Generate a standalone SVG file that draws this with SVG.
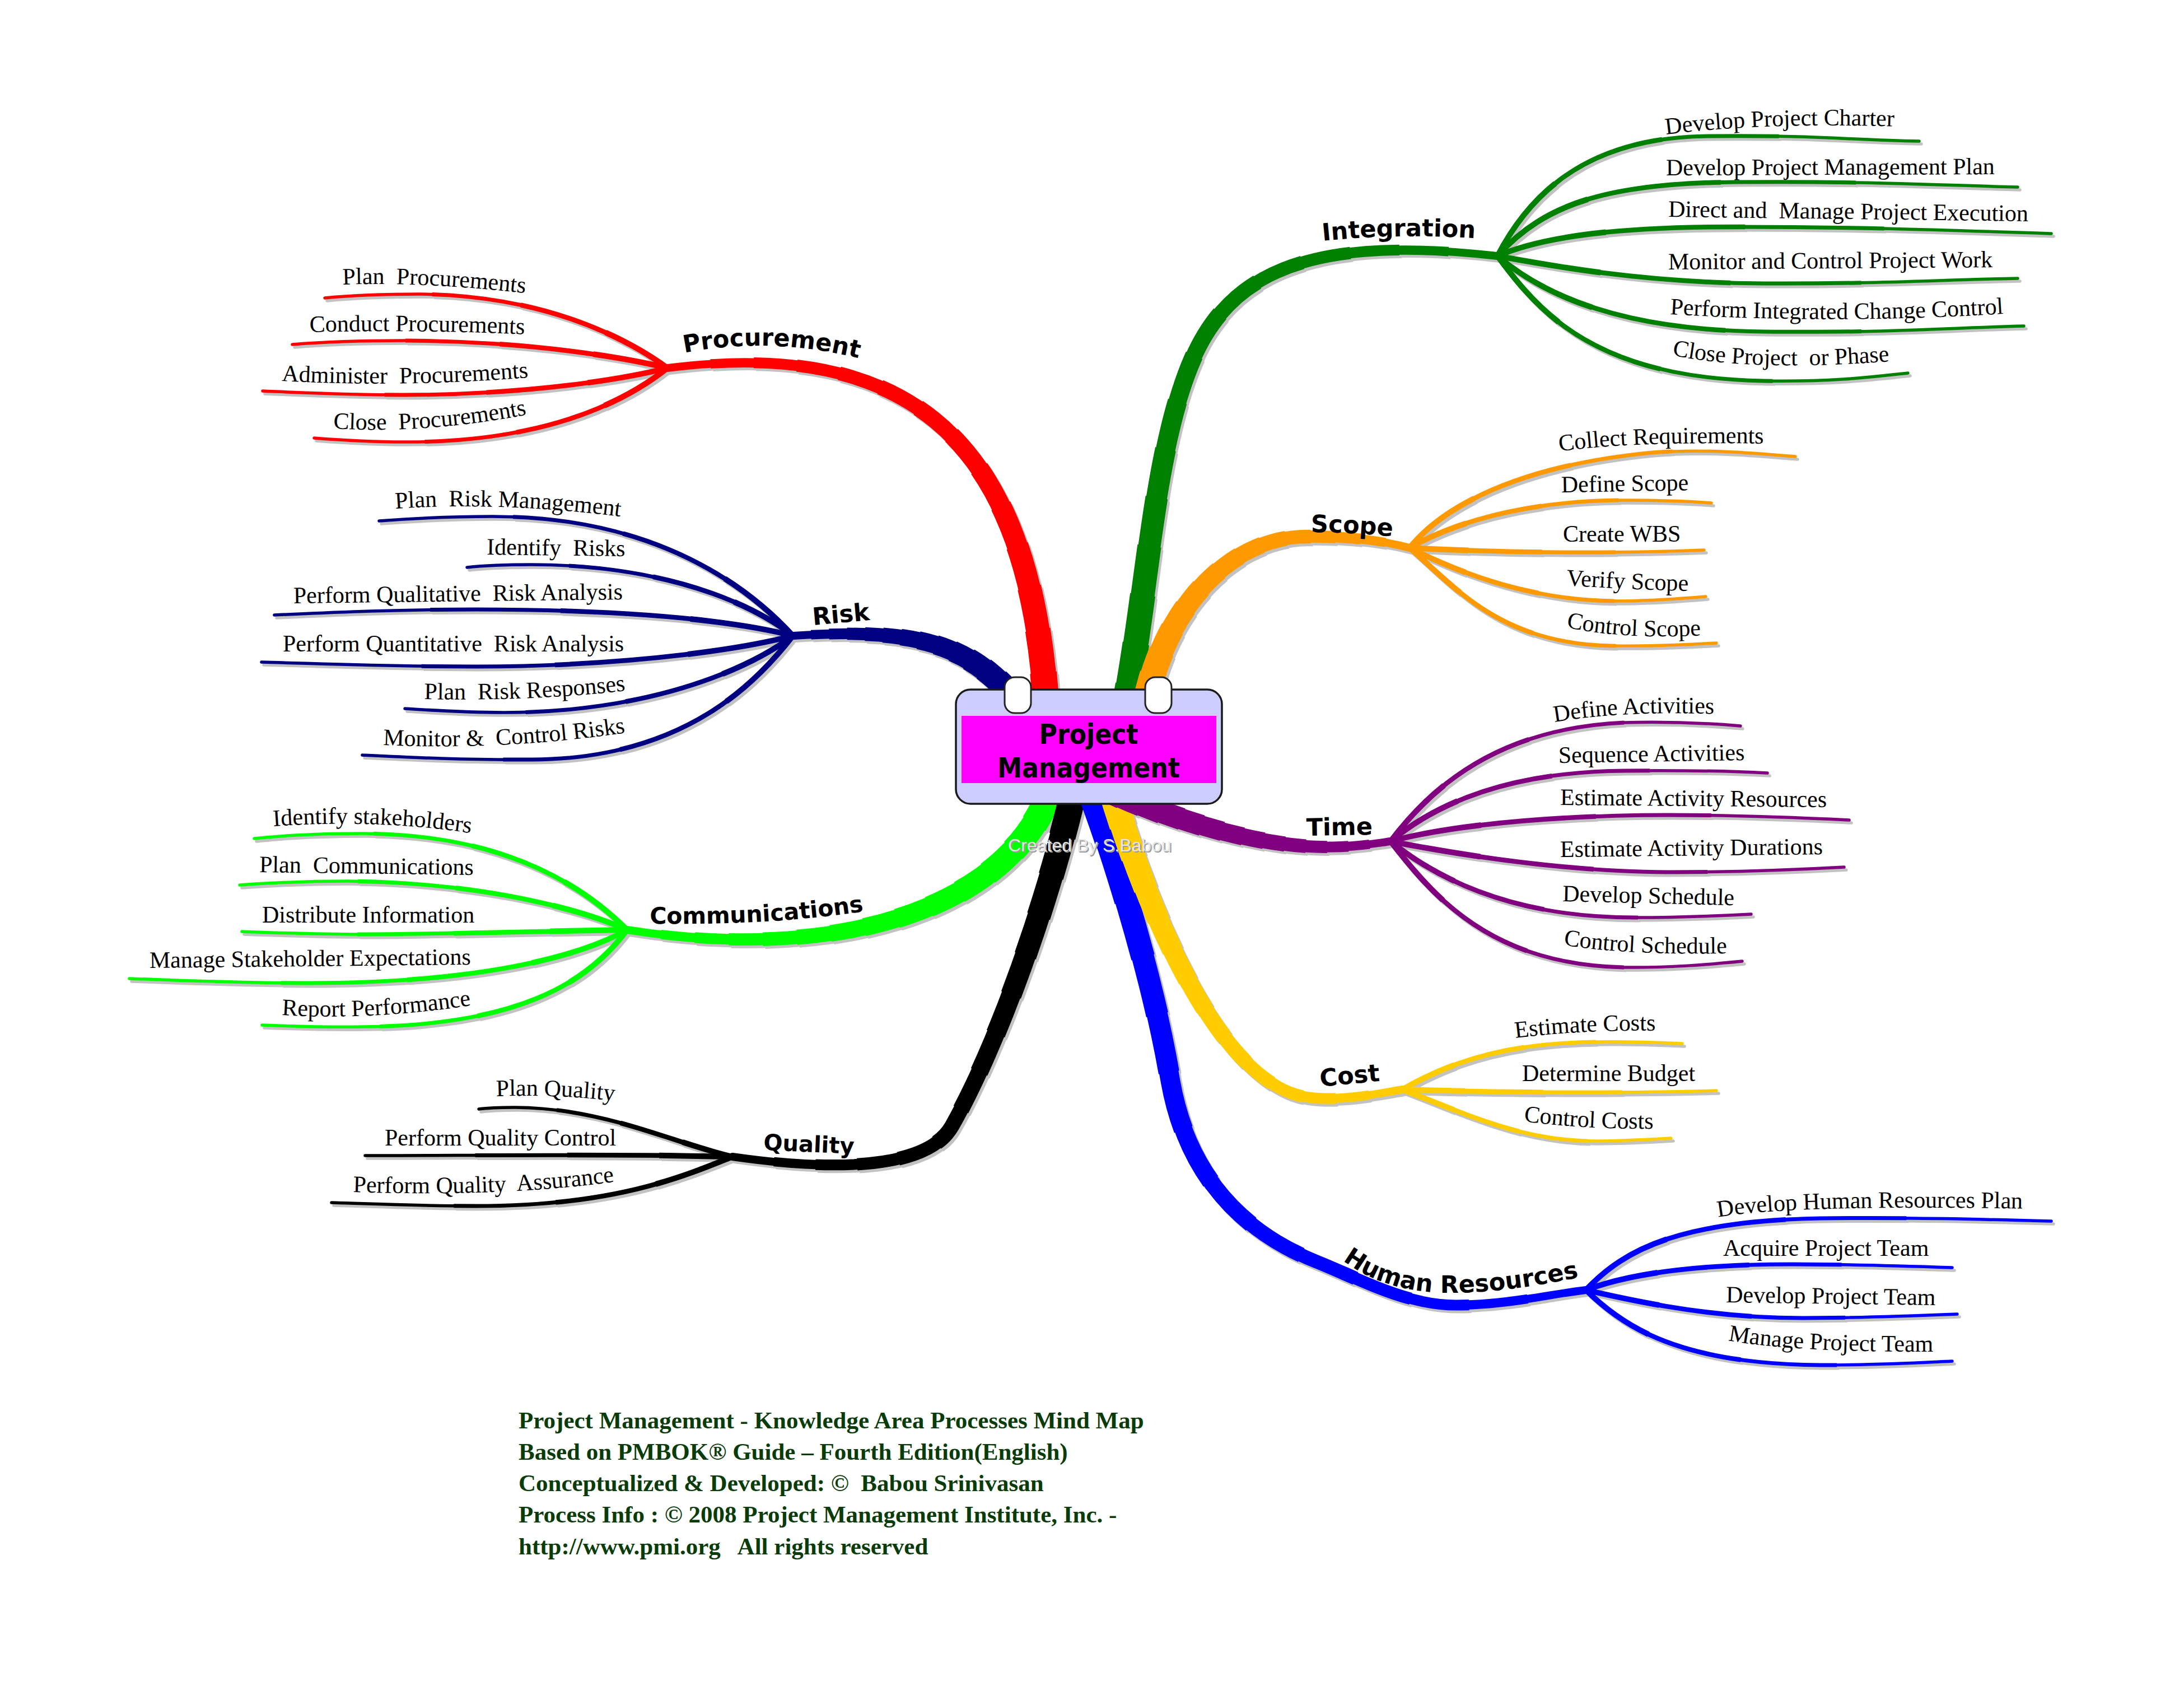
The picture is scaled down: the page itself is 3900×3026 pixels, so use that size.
<svg xmlns="http://www.w3.org/2000/svg" xmlns:xlink="http://www.w3.org/1999/xlink" width="3900" height="3026" viewBox="0 0 3900 3026">
<style>
.m1{stroke-width:14;stroke-linecap:round}
.m2{stroke-width:16.6;stroke-dasharray:93 1000}
.m3{stroke-width:19.2;stroke-dasharray:86 1000}
.m4{stroke-width:21.8;stroke-dasharray:79 1000}
.m5{stroke-width:24.4;stroke-dasharray:72 1000}
.m6{stroke-width:27;stroke-dasharray:65 1000}
.m7{stroke-width:29.6;stroke-dasharray:58 1000}
.m8{stroke-width:32.2;stroke-dasharray:51 1000}
.m9{stroke-width:34.8;stroke-dasharray:44 1000}
.m10{stroke-width:37.4;stroke-dasharray:37 1000}
.m11{stroke-width:40;stroke-dasharray:30 1000}
.m12{stroke-width:42.6;stroke-dasharray:23 1000}
.m13{stroke-width:45.2;stroke-dasharray:16 1000}
.m14{stroke-width:47.8;stroke-dasharray:9 1000}
.m15{stroke-width:50;stroke-dasharray:3 1000}
.f1{stroke-width:5.5;stroke-linecap:round}
.f2{stroke-width:7;stroke-dasharray:70 1000}
.f3{stroke-width:8.5;stroke-dasharray:45 1000}
.f4{stroke-width:10;stroke-dasharray:20 1000}
.lbl{font-family:"DejaVu Sans",Verdana,sans-serif;font-weight:bold;font-size:43px;fill:#000}
.leaf{font-family:"Liberation Serif","Times New Roman",serif;font-size:42px;fill:#000}
.ctr{font-family:"DejaVu Sans",Verdana,sans-serif;font-weight:bold;font-size:49px;fill:#000}
.foot{font-family:"Liberation Serif","Times New Roman",serif;font-weight:bold;font-size:43px;fill:#0a3c0a}
.wm{font-family:"Liberation Sans",Arial,sans-serif;font-size:32px}
.tp{fill:none;stroke:none}
</style>
<defs>
<path id="p-int" pathLength="100" d="M2010,1260 C2050,1050 2060,800 2130,640 C2200,480 2350,420 2674,457"/>
<path id="p-scope" pathLength="100" d="M2045,1260 C2080,1080 2200,960 2330,958 C2420,957 2480,968 2517,978"/>
<path id="p-time" pathLength="100" d="M1960,1400 C2080,1460 2250,1515 2380,1512 C2430,1511 2460,1505 2483,1502"/>
<path id="p-cost" pathLength="100" d="M1982,1400 C2040,1600 2170,1930 2330,1958 C2390,1968 2460,1952 2504,1945"/>
<path id="p-hr" pathLength="100" d="M1935,1380 C1990,1520 2060,1750 2090,1930 C2120,2100 2220,2200 2350,2252 C2430,2284 2510,2330 2600,2330 C2690,2330 2770,2310 2832,2303"/>
<path id="p-qual" pathLength="100" d="M1920,1400 C1880,1580 1790,1850 1700,2010 C1655,2090 1480,2090 1308,2065"/>
<path id="p-comm" pathLength="100" d="M1880,1400 C1810,1620 1500,1720 1120,1660"/>
<path id="p-risk" pathLength="100" d="M1830,1270 C1740,1150 1640,1120 1416,1135"/>
<path id="p-proc" pathLength="100" d="M1870,1300 C1850,800 1640,600 1192,657"/>
<path id="l-i1" pathLength="100" d="M2674,457 C2740,330 2850,245 3050,243 C3250,241 3300,250 3427,252"/>
<path id="l-i2" pathLength="100" d="M2674,457 C2760,360 2880,327 3100,325 C3320,323 3450,330 3603,334"/>
<path id="l-i3" pathLength="100" d="M2674,457 C2760,420 2900,405 3100,405 C3300,405 3450,410 3663,417"/>
<path id="l-i4" pathLength="100" d="M2674,457 C2800,480 2950,505 3150,506 C3350,507 3450,500 3603,497"/>
<path id="l-i5" pathLength="100" d="M2674,457 C2760,530 2900,590 3150,592 C3400,594 3450,586 3614,582"/>
<path id="l-i6" pathLength="100" d="M2674,457 C2750,560 2850,675 3150,680 C3280,682 3350,672 3407,666"/>
<path id="l-s1" pathLength="100" d="M2517,978 C2580,900 2720,830 2950,808 C3050,800 3150,811 3206,815"/>
<path id="l-s2" pathLength="100" d="M2517,978 C2620,920 2760,893 2900,893 C2980,893 3020,895 3056,898"/>
<path id="l-s3" pathLength="100" d="M2517,978 C2650,985 2850,990 3043,982"/>
<path id="l-s4" pathLength="100" d="M2517,978 C2620,1030 2750,1075 2900,1073 C2960,1072 3010,1068 3046,1065"/>
<path id="l-s5" pathLength="100" d="M2517,978 C2600,1050 2680,1150 2880,1153 C2960,1154 3020,1150 3065,1148"/>
<path id="l-t1" pathLength="100" d="M2483,1502 C2560,1400 2680,1300 2900,1290 C2980,1288 3050,1291 3108,1296"/>
<path id="l-t2" pathLength="100" d="M2483,1502 C2570,1430 2700,1378 2900,1376 C3000,1375 3100,1377 3156,1380"/>
<path id="l-t3" pathLength="100" d="M2483,1502 C2600,1470 2800,1455 2980,1455 C3100,1455 3220,1460 3302,1464"/>
<path id="l-t4" pathLength="100" d="M2483,1502 C2600,1525 2800,1557 2980,1557 C3100,1557 3220,1552 3293,1548"/>
<path id="l-t5" pathLength="100" d="M2483,1502 C2580,1580 2720,1638 2920,1638 C3000,1638 3070,1635 3127,1632"/>
<path id="l-t6" pathLength="100" d="M2483,1502 C2560,1600 2660,1722 2900,1727 C2980,1728 3050,1722 3111,1716"/>
<path id="l-c1" pathLength="100" d="M2504,1945 C2600,1890 2700,1862 2850,1860 C2920,1859 2960,1861 3004,1863"/>
<path id="l-c2" pathLength="100" d="M2504,1945 C2650,1950 2900,1952 3065,1947"/>
<path id="l-c3" pathLength="100" d="M2504,1945 C2620,1990 2720,2038 2850,2037 C2900,2037 2950,2034 2984,2032"/>
<path id="l-h1" pathLength="100" d="M2832,2303 C2900,2230 3000,2180 3250,2175 C3400,2173 3550,2177 3663,2180"/>
<path id="l-h2" pathLength="100" d="M2832,2303 C2920,2270 3050,2257 3200,2257 C3300,2257 3400,2260 3486,2263"/>
<path id="l-h3" pathLength="100" d="M2832,2303 C2950,2330 3070,2353 3220,2353 C3320,2353 3420,2349 3495,2346"/>
<path id="l-h4" pathLength="100" d="M2832,2303 C2900,2370 3000,2435 3250,2437 C3350,2437 3420,2433 3486,2430"/>
<path id="l-p1" pathLength="100" d="M1192,657 C1100,590 950,527 750,525 C680,525 620,528 580,532"/>
<path id="l-p2" pathLength="100" d="M1192,657 C1080,630 900,608 720,608 C640,608 570,611 522,615"/>
<path id="l-p3" pathLength="100" d="M1192,657 C1080,685 900,705 720,705 C620,705 540,701 469,698"/>
<path id="l-p4" pathLength="100" d="M1192,657 C1100,730 950,790 720,789 C660,789 600,785 561,782"/>
<path id="l-k1" pathLength="100" d="M1416,1135 C1320,1030 1150,922 880,922 C800,922 730,926 677,930"/>
<path id="l-k2" pathLength="100" d="M1416,1135 C1320,1060 1150,1008 950,1008 C900,1008 860,1010 834,1013"/>
<path id="l-k3" pathLength="100" d="M1416,1135 C1280,1100 1050,1088 850,1088 C700,1088 580,1094 490,1098"/>
<path id="l-k4" pathLength="100" d="M1416,1135 C1280,1170 1050,1190 850,1190 C700,1190 580,1185 467,1182"/>
<path id="l-k5" pathLength="100" d="M1416,1135 C1330,1200 1150,1272 900,1272 C830,1272 770,1268 723,1265"/>
<path id="l-k6" pathLength="100" d="M1416,1135 C1350,1220 1220,1355 950,1356 C830,1357 730,1352 647,1348"/>
<path id="l-m1" pathLength="100" d="M1120,1660 C1040,1580 900,1490 650,1488 C570,1488 500,1492 454,1497"/>
<path id="l-m2" pathLength="100" d="M1120,1660 C1030,1620 850,1575 620,1573 C540,1573 470,1577 428,1580"/>
<path id="l-m3" pathLength="100" d="M1120,1660 C950,1662 800,1668 640,1668 C560,1668 490,1665 432,1663"/>
<path id="l-m4" pathLength="100" d="M1120,1660 C1030,1710 850,1755 550,1755 C420,1755 320,1750 231,1747"/>
<path id="l-m5" pathLength="100" d="M1120,1660 C1060,1740 950,1830 650,1833 C580,1834 520,1832 468,1830"/>
<path id="l-q1" pathLength="100" d="M1308,2065 C1200,2040 1080,1978 920,1977 C890,1977 870,1978 855,1980"/>
<path id="l-q2" pathLength="100" d="M1308,2065 C1100,2060 850,2063 652,2063"/>
<path id="l-q3" pathLength="100" d="M1308,2065 C1220,2100 1100,2153 850,2153 C750,2153 660,2149 592,2147"/>
<g id="g-int" fill="none">
<use href="#p-int" class="m1"/><use href="#p-int" class="m2"/><use href="#p-int" class="m3"/><use href="#p-int" class="m4"/><use href="#p-int" class="m5"/><use href="#p-int" class="m6"/><use href="#p-int" class="m7"/><use href="#p-int" class="m8"/><use href="#p-int" class="m9"/><use href="#p-int" class="m10"/><use href="#p-int" class="m11"/><use href="#p-int" class="m12"/><use href="#p-int" class="m13"/><use href="#p-int" class="m14"/><use href="#p-int" class="m15"/>
<use href="#l-i1" class="f1"/><use href="#l-i1" class="f2"/><use href="#l-i1" class="f3"/><use href="#l-i1" class="f4"/>
<use href="#l-i2" class="f1"/><use href="#l-i2" class="f2"/><use href="#l-i2" class="f3"/><use href="#l-i2" class="f4"/>
<use href="#l-i3" class="f1"/><use href="#l-i3" class="f2"/><use href="#l-i3" class="f3"/><use href="#l-i3" class="f4"/>
<use href="#l-i4" class="f1"/><use href="#l-i4" class="f2"/><use href="#l-i4" class="f3"/><use href="#l-i4" class="f4"/>
<use href="#l-i5" class="f1"/><use href="#l-i5" class="f2"/><use href="#l-i5" class="f3"/><use href="#l-i5" class="f4"/>
<use href="#l-i6" class="f1"/><use href="#l-i6" class="f2"/><use href="#l-i6" class="f3"/><use href="#l-i6" class="f4"/>
</g>
<g id="g-scope" fill="none">
<use href="#p-scope" class="m1"/><use href="#p-scope" class="m2"/><use href="#p-scope" class="m3"/><use href="#p-scope" class="m4"/><use href="#p-scope" class="m5"/><use href="#p-scope" class="m6"/><use href="#p-scope" class="m7"/><use href="#p-scope" class="m8"/><use href="#p-scope" class="m9"/><use href="#p-scope" class="m10"/><use href="#p-scope" class="m11"/><use href="#p-scope" class="m12"/><use href="#p-scope" class="m13"/><use href="#p-scope" class="m14"/><use href="#p-scope" class="m15"/>
<use href="#l-s1" class="f1"/><use href="#l-s1" class="f2"/><use href="#l-s1" class="f3"/><use href="#l-s1" class="f4"/>
<use href="#l-s2" class="f1"/><use href="#l-s2" class="f2"/><use href="#l-s2" class="f3"/><use href="#l-s2" class="f4"/>
<use href="#l-s3" class="f1"/><use href="#l-s3" class="f2"/><use href="#l-s3" class="f3"/><use href="#l-s3" class="f4"/>
<use href="#l-s4" class="f1"/><use href="#l-s4" class="f2"/><use href="#l-s4" class="f3"/><use href="#l-s4" class="f4"/>
<use href="#l-s5" class="f1"/><use href="#l-s5" class="f2"/><use href="#l-s5" class="f3"/><use href="#l-s5" class="f4"/>
</g>
<g id="g-time" fill="none">
<use href="#p-time" class="m1"/><use href="#p-time" class="m2"/><use href="#p-time" class="m3"/><use href="#p-time" class="m4"/><use href="#p-time" class="m5"/><use href="#p-time" class="m6"/><use href="#p-time" class="m7"/><use href="#p-time" class="m8"/><use href="#p-time" class="m9"/><use href="#p-time" class="m10"/><use href="#p-time" class="m11"/><use href="#p-time" class="m12"/><use href="#p-time" class="m13"/><use href="#p-time" class="m14"/><use href="#p-time" class="m15"/>
<use href="#l-t1" class="f1"/><use href="#l-t1" class="f2"/><use href="#l-t1" class="f3"/><use href="#l-t1" class="f4"/>
<use href="#l-t2" class="f1"/><use href="#l-t2" class="f2"/><use href="#l-t2" class="f3"/><use href="#l-t2" class="f4"/>
<use href="#l-t3" class="f1"/><use href="#l-t3" class="f2"/><use href="#l-t3" class="f3"/><use href="#l-t3" class="f4"/>
<use href="#l-t4" class="f1"/><use href="#l-t4" class="f2"/><use href="#l-t4" class="f3"/><use href="#l-t4" class="f4"/>
<use href="#l-t5" class="f1"/><use href="#l-t5" class="f2"/><use href="#l-t5" class="f3"/><use href="#l-t5" class="f4"/>
<use href="#l-t6" class="f1"/><use href="#l-t6" class="f2"/><use href="#l-t6" class="f3"/><use href="#l-t6" class="f4"/>
</g>
<g id="g-cost" fill="none">
<use href="#p-cost" class="m1"/><use href="#p-cost" class="m2"/><use href="#p-cost" class="m3"/><use href="#p-cost" class="m4"/><use href="#p-cost" class="m5"/><use href="#p-cost" class="m6"/><use href="#p-cost" class="m7"/><use href="#p-cost" class="m8"/><use href="#p-cost" class="m9"/><use href="#p-cost" class="m10"/><use href="#p-cost" class="m11"/><use href="#p-cost" class="m12"/><use href="#p-cost" class="m13"/><use href="#p-cost" class="m14"/><use href="#p-cost" class="m15"/>
<use href="#l-c1" class="f1"/><use href="#l-c1" class="f2"/><use href="#l-c1" class="f3"/><use href="#l-c1" class="f4"/>
<use href="#l-c2" class="f1"/><use href="#l-c2" class="f2"/><use href="#l-c2" class="f3"/><use href="#l-c2" class="f4"/>
<use href="#l-c3" class="f1"/><use href="#l-c3" class="f2"/><use href="#l-c3" class="f3"/><use href="#l-c3" class="f4"/>
</g>
<g id="g-hr" fill="none">
<use href="#p-hr" class="m1"/><use href="#p-hr" class="m2"/><use href="#p-hr" class="m3"/><use href="#p-hr" class="m4"/><use href="#p-hr" class="m5"/><use href="#p-hr" class="m6"/><use href="#p-hr" class="m7"/><use href="#p-hr" class="m8"/><use href="#p-hr" class="m9"/><use href="#p-hr" class="m10"/><use href="#p-hr" class="m11"/><use href="#p-hr" class="m12"/><use href="#p-hr" class="m13"/><use href="#p-hr" class="m14"/><use href="#p-hr" class="m15"/>
<use href="#l-h1" class="f1"/><use href="#l-h1" class="f2"/><use href="#l-h1" class="f3"/><use href="#l-h1" class="f4"/>
<use href="#l-h2" class="f1"/><use href="#l-h2" class="f2"/><use href="#l-h2" class="f3"/><use href="#l-h2" class="f4"/>
<use href="#l-h3" class="f1"/><use href="#l-h3" class="f2"/><use href="#l-h3" class="f3"/><use href="#l-h3" class="f4"/>
<use href="#l-h4" class="f1"/><use href="#l-h4" class="f2"/><use href="#l-h4" class="f3"/><use href="#l-h4" class="f4"/>
</g>
<g id="g-qual" fill="none">
<use href="#p-qual" class="m1"/><use href="#p-qual" class="m2"/><use href="#p-qual" class="m3"/><use href="#p-qual" class="m4"/><use href="#p-qual" class="m5"/><use href="#p-qual" class="m6"/><use href="#p-qual" class="m7"/><use href="#p-qual" class="m8"/><use href="#p-qual" class="m9"/><use href="#p-qual" class="m10"/><use href="#p-qual" class="m11"/><use href="#p-qual" class="m12"/><use href="#p-qual" class="m13"/><use href="#p-qual" class="m14"/><use href="#p-qual" class="m15"/>
<use href="#l-q1" class="f1"/><use href="#l-q1" class="f2"/><use href="#l-q1" class="f3"/><use href="#l-q1" class="f4"/>
<use href="#l-q2" class="f1"/><use href="#l-q2" class="f2"/><use href="#l-q2" class="f3"/><use href="#l-q2" class="f4"/>
<use href="#l-q3" class="f1"/><use href="#l-q3" class="f2"/><use href="#l-q3" class="f3"/><use href="#l-q3" class="f4"/>
</g>
<g id="g-comm" fill="none">
<use href="#p-comm" class="m1"/><use href="#p-comm" class="m2"/><use href="#p-comm" class="m3"/><use href="#p-comm" class="m4"/><use href="#p-comm" class="m5"/><use href="#p-comm" class="m6"/><use href="#p-comm" class="m7"/><use href="#p-comm" class="m8"/><use href="#p-comm" class="m9"/><use href="#p-comm" class="m10"/><use href="#p-comm" class="m11"/><use href="#p-comm" class="m12"/><use href="#p-comm" class="m13"/><use href="#p-comm" class="m14"/><use href="#p-comm" class="m15"/>
<use href="#l-m1" class="f1"/><use href="#l-m1" class="f2"/><use href="#l-m1" class="f3"/><use href="#l-m1" class="f4"/>
<use href="#l-m2" class="f1"/><use href="#l-m2" class="f2"/><use href="#l-m2" class="f3"/><use href="#l-m2" class="f4"/>
<use href="#l-m3" class="f1"/><use href="#l-m3" class="f2"/><use href="#l-m3" class="f3"/><use href="#l-m3" class="f4"/>
<use href="#l-m4" class="f1"/><use href="#l-m4" class="f2"/><use href="#l-m4" class="f3"/><use href="#l-m4" class="f4"/>
<use href="#l-m5" class="f1"/><use href="#l-m5" class="f2"/><use href="#l-m5" class="f3"/><use href="#l-m5" class="f4"/>
</g>
<g id="g-risk" fill="none">
<use href="#p-risk" class="m1"/><use href="#p-risk" class="m2"/><use href="#p-risk" class="m3"/><use href="#p-risk" class="m4"/><use href="#p-risk" class="m5"/><use href="#p-risk" class="m6"/><use href="#p-risk" class="m7"/><use href="#p-risk" class="m8"/><use href="#p-risk" class="m9"/><use href="#p-risk" class="m10"/><use href="#p-risk" class="m11"/><use href="#p-risk" class="m12"/><use href="#p-risk" class="m13"/><use href="#p-risk" class="m14"/><use href="#p-risk" class="m15"/>
<use href="#l-k1" class="f1"/><use href="#l-k1" class="f2"/><use href="#l-k1" class="f3"/><use href="#l-k1" class="f4"/>
<use href="#l-k2" class="f1"/><use href="#l-k2" class="f2"/><use href="#l-k2" class="f3"/><use href="#l-k2" class="f4"/>
<use href="#l-k3" class="f1"/><use href="#l-k3" class="f2"/><use href="#l-k3" class="f3"/><use href="#l-k3" class="f4"/>
<use href="#l-k4" class="f1"/><use href="#l-k4" class="f2"/><use href="#l-k4" class="f3"/><use href="#l-k4" class="f4"/>
<use href="#l-k5" class="f1"/><use href="#l-k5" class="f2"/><use href="#l-k5" class="f3"/><use href="#l-k5" class="f4"/>
<use href="#l-k6" class="f1"/><use href="#l-k6" class="f2"/><use href="#l-k6" class="f3"/><use href="#l-k6" class="f4"/>
</g>
<g id="g-proc" fill="none">
<use href="#p-proc" class="m1"/><use href="#p-proc" class="m2"/><use href="#p-proc" class="m3"/><use href="#p-proc" class="m4"/><use href="#p-proc" class="m5"/><use href="#p-proc" class="m6"/><use href="#p-proc" class="m7"/><use href="#p-proc" class="m8"/><use href="#p-proc" class="m9"/><use href="#p-proc" class="m10"/><use href="#p-proc" class="m11"/><use href="#p-proc" class="m12"/><use href="#p-proc" class="m13"/><use href="#p-proc" class="m14"/><use href="#p-proc" class="m15"/>
<use href="#l-p1" class="f1"/><use href="#l-p1" class="f2"/><use href="#l-p1" class="f3"/><use href="#l-p1" class="f4"/>
<use href="#l-p2" class="f1"/><use href="#l-p2" class="f2"/><use href="#l-p2" class="f3"/><use href="#l-p2" class="f4"/>
<use href="#l-p3" class="f1"/><use href="#l-p3" class="f2"/><use href="#l-p3" class="f3"/><use href="#l-p3" class="f4"/>
<use href="#l-p4" class="f1"/><use href="#l-p4" class="f2"/><use href="#l-p4" class="f3"/><use href="#l-p4" class="f4"/>
</g>
<path id="tp-int" class="tp" d="M2362,430 Q2500,416 2645,426 l80,6"/>
<path id="tp-scope" class="tp" d="M2341,950 Q2410,950 2488,958 l80,8"/>
<path id="tp-time" class="tp" d="M2333,1492 L2455,1490 l80,0"/>
<path id="tp-cost" class="tp" d="M2358,1940 Q2410,1935 2462,1930 l80,-6"/>
<path id="tp-hr" class="tp" d="M2398,2250 C2450,2290 2520,2310 2600,2308 C2690,2306 2760,2292 2812,2282 l80,-12"/>
<path id="tp-proc" class="tp" d="M1222,630 Q1375,600 1535,640 l70,20"/>
<path id="tp-risk" class="tp" d="M1452,1116 L1552,1107 l80,-7"/>
<path id="tp-comm" class="tp" d="M1160,1649 Q1380,1652 1542,1627 l80,-14"/>
<path id="tp-qual" class="tp" d="M1363,2053 L1528,2060 l80,3"/>
<path id="t-i1" class="tp" d="M2975,240 Q3150,218 3392,226 l60,2"/>
<path id="t-i2" class="tp" d="M2975,313 L3570,311 l60,0"/>
<path id="t-i3" class="tp" d="M2979,387 L3626,395 l60,1"/>
<path id="t-i4" class="tp" d="M2979,481 L3562,477 l60,0"/>
<path id="t-i5" class="tp" d="M2982,561 Q3280,579 3577,560 l60,-4"/>
<path id="t-i6" class="tp" d="M2986,634 Q3130,664 3375,645 l60,-6"/>
<path id="t-s1" class="tp" d="M2785,806 Q2900,788 3160,792 l60,1"/>
<path id="t-s2" class="tp" d="M2788,879 L3022,875 l60,0"/>
<path id="t-s3" class="tp" d="M2791,967 L3004,967 l60,0"/>
<path id="t-s4" class="tp" d="M2797,1045 Q2900,1052 3016,1055 l60,1"/>
<path id="t-s5" class="tp" d="M2797,1120 Q2900,1142 3042,1134 l60,-3"/>
<path id="t-t1" class="tp" d="M2776,1289 Q2900,1268 3075,1275 l60,2"/>
<path id="t-t2" class="tp" d="M2783,1362 L3122,1357 l60,0"/>
<path id="t-t3" class="tp" d="M2786,1437 L3268,1441 l60,0"/>
<path id="t-t4" class="tp" d="M2786,1530 L3256,1525 l60,0"/>
<path id="t-t5" class="tp" d="M2790,1609 L3093,1616 l60,1"/>
<path id="t-t6" class="tp" d="M2792,1687 Q2900,1705 3085,1702 l60,0"/>
<path id="t-c1" class="tp" d="M2706,1853 Q2830,1838 2967,1840 l60,1"/>
<path id="t-c2" class="tp" d="M2718,1930 L3025,1930 l60,0"/>
<path id="t-c3" class="tp" d="M2721,2002 Q2830,2016 2955,2015 l60,0"/>
<path id="t-h1" class="tp" d="M3068,2173 Q3200,2150 3632,2158 l60,1"/>
<path id="t-h2" class="tp" d="M3077,2242 L3452,2242 l60,0"/>
<path id="t-h3" class="tp" d="M3082,2325 L3457,2330 l60,1"/>
<path id="t-h4" class="tp" d="M3086,2393 Q3200,2414 3455,2413 l60,0"/>
<path id="t-p1" class="tp" d="M612,508 Q760,503 945,524 l60,8"/>
<path id="t-p2" class="tp" d="M553,593 Q750,588 942,597 l60,3"/>
<path id="t-p3" class="tp" d="M503,680 Q720,692 942,674 l60,-6"/>
<path id="t-p4" class="tp" d="M595,765 Q760,775 942,740 l60,-14"/>
<path id="t-k1" class="tp" d="M706,908 Q900,895 1122,924 l60,10"/>
<path id="t-k2" class="tp" d="M869,990 L1118,993 l60,0"/>
<path id="t-k3" class="tp" d="M524,1077 L1122,1070 l60,0"/>
<path id="t-k4" class="tp" d="M505,1163 L1114,1163 l60,0"/>
<path id="t-k5" class="tp" d="M757,1248 Q950,1252 1118,1233 l60,-8"/>
<path id="t-k6" class="tp" d="M684,1330 Q900,1340 1118,1308 l60,-10"/>
<path id="t-m1" class="tp" d="M488,1475 Q680,1462 845,1488 l60,10"/>
<path id="t-m2" class="tp" d="M463,1557 L853,1562 l60,1"/>
<path id="t-m3" class="tp" d="M468,1647 L848,1647 l60,0"/>
<path id="t-m4" class="tp" d="M267,1728 L839,1722 l60,0"/>
<path id="t-m5" class="tp" d="M503,1812 Q660,1822 840,1795 l60,-10"/>
<path id="t-q1" class="tp" d="M886,1957 Q1000,1953 1110,1967 l60,8"/>
<path id="t-q2" class="tp" d="M687,2045 L1098,2045 l60,0"/>
<path id="t-q3" class="tp" d="M630,2128 Q900,2137 1095,2110 l60,-6"/>
</defs>
<rect x="0" y="0" width="3900" height="3026" fill="#ffffff"/>
<g id="connectors">
<g id="shadows" transform="translate(4,5)" stroke="#c2c2c2">
<use href="#g-risk"/><use href="#g-proc"/><use href="#g-comm"/><use href="#g-qual"/><use href="#g-hr"/><use href="#g-cost"/><use href="#g-time"/><use href="#g-int"/><use href="#g-scope"/>
</g>
<g id="branches">
<use href="#g-risk" stroke="#000080"/>
<use href="#g-proc" stroke="#ff0000"/>
<use href="#g-comm" stroke="#00ff00"/>
<use href="#g-qual" stroke="#000000"/>
<use href="#g-hr" stroke="#0000ff"/>
<use href="#g-cost" stroke="#ffcc00"/>
<use href="#g-time" stroke="#800080"/>
<use href="#g-int" stroke="#008000"/>
<use href="#g-scope" stroke="#ff9900"/>
</g>
</g>
<g id="n-center">
<rect x="1707" y="1231" width="475" height="204" rx="26" fill="#ccccff" stroke="#1a1a1a" stroke-width="3.5"/>
<rect x="1717" y="1278" width="455" height="120" fill="#ff00ff"/>
<rect x="1794" y="1209" width="47" height="64" rx="18" fill="#ffffff" stroke="#222222" stroke-width="3"/>
<rect x="2045" y="1209" width="47" height="64" rx="18" fill="#ffffff" stroke="#222222" stroke-width="3"/>
<text class="ctr" x="1944" y="1328" text-anchor="middle" textLength="177" lengthAdjust="spacingAndGlyphs">Project</text>
<text class="ctr" x="1944" y="1388" text-anchor="middle" textLength="326" lengthAdjust="spacingAndGlyphs">Management</text>
</g>
<g id="n-integration"><text class="lbl"><textPath href="#tp-int">Integration</textPath></text></g>
<g id="n-scope"><text class="lbl"><textPath href="#tp-scope">Scope</textPath></text></g>
<g id="n-time"><text class="lbl"><textPath href="#tp-time">Time</textPath></text></g>
<g id="n-cost"><text class="lbl"><textPath href="#tp-cost">Cost</textPath></text></g>
<g id="n-hr"><text class="lbl"><textPath href="#tp-hr">Human Resources</textPath></text></g>
<g id="n-procurement"><text class="lbl"><textPath href="#tp-proc">Procurement</textPath></text></g>
<g id="n-risk"><text class="lbl"><textPath href="#tp-risk">Risk</textPath></text></g>
<g id="n-communications"><text class="lbl" style="font-size:41px"><textPath href="#tp-comm">Communications</textPath></text></g>
<g id="n-quality"><text class="lbl" style="font-size:40px"><textPath href="#tp-qual">Quality</textPath></text></g>
<g id="n-i1"><text class="leaf"><textPath href="#t-i1">Develop Project Charter</textPath></text></g>
<g id="n-i2"><text class="leaf"><textPath href="#t-i2">Develop Project Management Plan</textPath></text></g>
<g id="n-i3"><text class="leaf" xml:space="preserve"><textPath href="#t-i3">Direct and  Manage Project Execution</textPath></text></g>
<g id="n-i4"><text class="leaf"><textPath href="#t-i4">Monitor and Control Project Work</textPath></text></g>
<g id="n-i5"><text class="leaf"><textPath href="#t-i5">Perform Integrated Change Control</textPath></text></g>
<g id="n-i6"><text class="leaf" xml:space="preserve"><textPath href="#t-i6">Close Project  or Phase</textPath></text></g>
<g id="n-s1"><text class="leaf"><textPath href="#t-s1">Collect Requirements</textPath></text></g>
<g id="n-s2"><text class="leaf"><textPath href="#t-s2">Define Scope</textPath></text></g>
<g id="n-s3"><text class="leaf"><textPath href="#t-s3">Create WBS</textPath></text></g>
<g id="n-s4"><text class="leaf"><textPath href="#t-s4">Verify Scope</textPath></text></g>
<g id="n-s5"><text class="leaf"><textPath href="#t-s5">Control Scope</textPath></text></g>
<g id="n-t1"><text class="leaf"><textPath href="#t-t1">Define Activities</textPath></text></g>
<g id="n-t2"><text class="leaf"><textPath href="#t-t2">Sequence Activities</textPath></text></g>
<g id="n-t3"><text class="leaf"><textPath href="#t-t3">Estimate Activity Resources</textPath></text></g>
<g id="n-t4"><text class="leaf"><textPath href="#t-t4">Estimate Activity Durations</textPath></text></g>
<g id="n-t5"><text class="leaf"><textPath href="#t-t5">Develop Schedule</textPath></text></g>
<g id="n-t6"><text class="leaf"><textPath href="#t-t6">Control Schedule</textPath></text></g>
<g id="n-c1"><text class="leaf"><textPath href="#t-c1">Estimate Costs</textPath></text></g>
<g id="n-c2"><text class="leaf"><textPath href="#t-c2">Determine Budget</textPath></text></g>
<g id="n-c3"><text class="leaf"><textPath href="#t-c3">Control Costs</textPath></text></g>
<g id="n-h1"><text class="leaf"><textPath href="#t-h1">Develop Human Resources Plan</textPath></text></g>
<g id="n-h2"><text class="leaf"><textPath href="#t-h2">Acquire Project Team</textPath></text></g>
<g id="n-h3"><text class="leaf"><textPath href="#t-h3">Develop Project Team</textPath></text></g>
<g id="n-h4"><text class="leaf"><textPath href="#t-h4">Manage Project Team</textPath></text></g>
<g id="n-p1"><text class="leaf" xml:space="preserve"><textPath href="#t-p1">Plan  Procurements</textPath></text></g>
<g id="n-p2"><text class="leaf"><textPath href="#t-p2">Conduct Procurements</textPath></text></g>
<g id="n-p3"><text class="leaf" xml:space="preserve"><textPath href="#t-p3">Administer  Procurements</textPath></text></g>
<g id="n-p4"><text class="leaf" xml:space="preserve"><textPath href="#t-p4">Close  Procurements</textPath></text></g>
<g id="n-k1"><text class="leaf" xml:space="preserve"><textPath href="#t-k1">Plan  Risk Management</textPath></text></g>
<g id="n-k2"><text class="leaf" xml:space="preserve"><textPath href="#t-k2">Identify  Risks</textPath></text></g>
<g id="n-k3"><text class="leaf" xml:space="preserve"><textPath href="#t-k3">Perform Qualitative  Risk Analysis</textPath></text></g>
<g id="n-k4"><text class="leaf" xml:space="preserve"><textPath href="#t-k4">Perform Quantitative  Risk Analysis</textPath></text></g>
<g id="n-k5"><text class="leaf" xml:space="preserve"><textPath href="#t-k5">Plan  Risk Responses</textPath></text></g>
<g id="n-k6"><text class="leaf" xml:space="preserve"><textPath href="#t-k6">Monitor &amp;  Control Risks</textPath></text></g>
<g id="n-m1"><text class="leaf"><textPath href="#t-m1">Identify stakeholders</textPath></text></g>
<g id="n-m2"><text class="leaf" xml:space="preserve"><textPath href="#t-m2">Plan  Communications</textPath></text></g>
<g id="n-m3"><text class="leaf"><textPath href="#t-m3">Distribute Information</textPath></text></g>
<g id="n-m4"><text class="leaf"><textPath href="#t-m4">Manage Stakeholder Expectations</textPath></text></g>
<g id="n-m5"><text class="leaf"><textPath href="#t-m5">Report Performance</textPath></text></g>
<g id="n-q1"><text class="leaf"><textPath href="#t-q1">Plan Quality</textPath></text></g>
<g id="n-q2"><text class="leaf"><textPath href="#t-q2">Perform Quality Control</textPath></text></g>
<g id="n-q3"><text class="leaf" xml:space="preserve"><textPath href="#t-q3">Perform Quality  Assurance</textPath></text></g>
<g id="watermark">
<text class="wm" x="1802" y="1522" fill="#9a9a9a">Created By S.Babou</text>
<text class="wm" x="1800" y="1520" fill="#e6e6e6">Created By S.Babou</text>
</g>
<g id="footer">
<text class="foot" x="926" y="2550">Project Management - Knowledge Area Processes Mind Map</text>
<text class="foot" x="926" y="2606">Based on PMBOK® Guide – Fourth Edition(English)</text>
<text class="foot" x="926" y="2662" xml:space="preserve">Conceptualized &amp; Developed: ©  Babou Srinivasan</text>
<text class="foot" x="926" y="2718">Process Info : © 2008 Project Management Institute, Inc. -</text>
<text class="foot" x="926" y="2775" xml:space="preserve">http://www.pmi.org   All rights reserved</text>
</g>
</svg>
